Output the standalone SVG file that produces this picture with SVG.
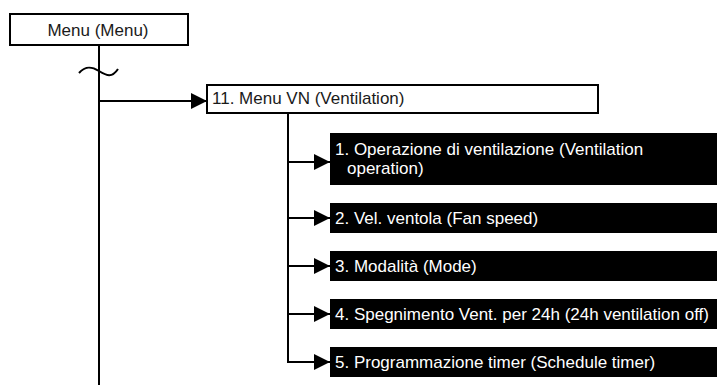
<svg xmlns="http://www.w3.org/2000/svg" width="717" height="385" viewBox="0 0 717 385">
  <style>
    .frame { fill: #ffffff; stroke: #000000; stroke-width: 2; }
    .item { fill: #000000; }
    .label { font-family: "Liberation Sans", Arial, sans-serif; font-size: 17px; fill: #1a1a1a; }
    .item-label { font-family: "Liberation Sans", Arial, sans-serif; font-size: 17px; fill: #ffffff; }
    .wire { fill: none; stroke: #000000; stroke-width: 2; }
  </style>
  <defs>
    <marker id="arrow" viewBox="0 0 16 16" refX="16" refY="8" markerWidth="16" markerHeight="16" markerUnits="userSpaceOnUse" orient="auto">
      <path d="M0,0 L16,8 L0,16 Z" fill="#000000"/>
    </marker>
  </defs>

  <g id="connectors">
    <!-- main trunk from the top menu, with break mark -->
    <line class="wire" x1="99" y1="46" x2="99" y2="385"/>
    <path class="wire" d="M79,73 C85,66 91,66 99,71 S112,78 118,69"/>
    <line class="wire" x1="99" y1="101" x2="207" y2="101" marker-end="url(#arrow)"/>
    <!-- sub-menu trunk -->
    <polyline class="wire" points="288,114 288,362 330,362" marker-end="url(#arrow)"/>
    <line class="wire" x1="288" y1="162" x2="330" y2="162" marker-end="url(#arrow)"/>
    <line class="wire" x1="288" y1="218" x2="330" y2="218" marker-end="url(#arrow)"/>
    <line class="wire" x1="288" y1="266" x2="330" y2="266" marker-end="url(#arrow)"/>
    <line class="wire" x1="288" y1="314" x2="330" y2="314" marker-end="url(#arrow)"/>
  </g>

  <g id="menu">
    <rect class="frame" x="10" y="14" width="178" height="31"/>
    <text class="label" x="98" y="36" text-anchor="middle">Menu (Menu)</text>
  </g>

  <g id="menu-vn">
    <rect class="frame" x="207" y="85" width="391" height="28"/>
    <text class="label" x="212" y="104">11. Menu VN (Ventilation)</text>
  </g>

  <g id="ventilation-operation">
    <rect class="item" x="330" y="133" width="387" height="52"/>
    <text class="item-label" x="335" y="155">1. Operazione di ventilazione (Ventilation</text>
    <text class="item-label" x="347" y="174">operation)</text>
  </g>

  <g id="fan-speed">
    <rect class="item" x="330" y="203" width="387" height="30"/>
    <text class="item-label" x="335" y="224">2. Vel. ventola (Fan speed)</text>
  </g>

  <g id="mode">
    <rect class="item" x="330" y="251" width="387" height="30"/>
    <text class="item-label" x="335" y="272">3. Modalità (Mode)</text>
  </g>

  <g id="ventilation-off">
    <rect class="item" x="330" y="299" width="387" height="30"/>
    <text class="item-label" x="335" y="320">4. Spegnimento Vent. per 24h (24h ventilation off)</text>
  </g>

  <g id="schedule-timer">
    <rect class="item" x="330" y="347" width="387" height="30"/>
    <text class="item-label" x="335" y="368">5. Programmazione timer (Schedule timer)</text>
  </g>
</svg>
